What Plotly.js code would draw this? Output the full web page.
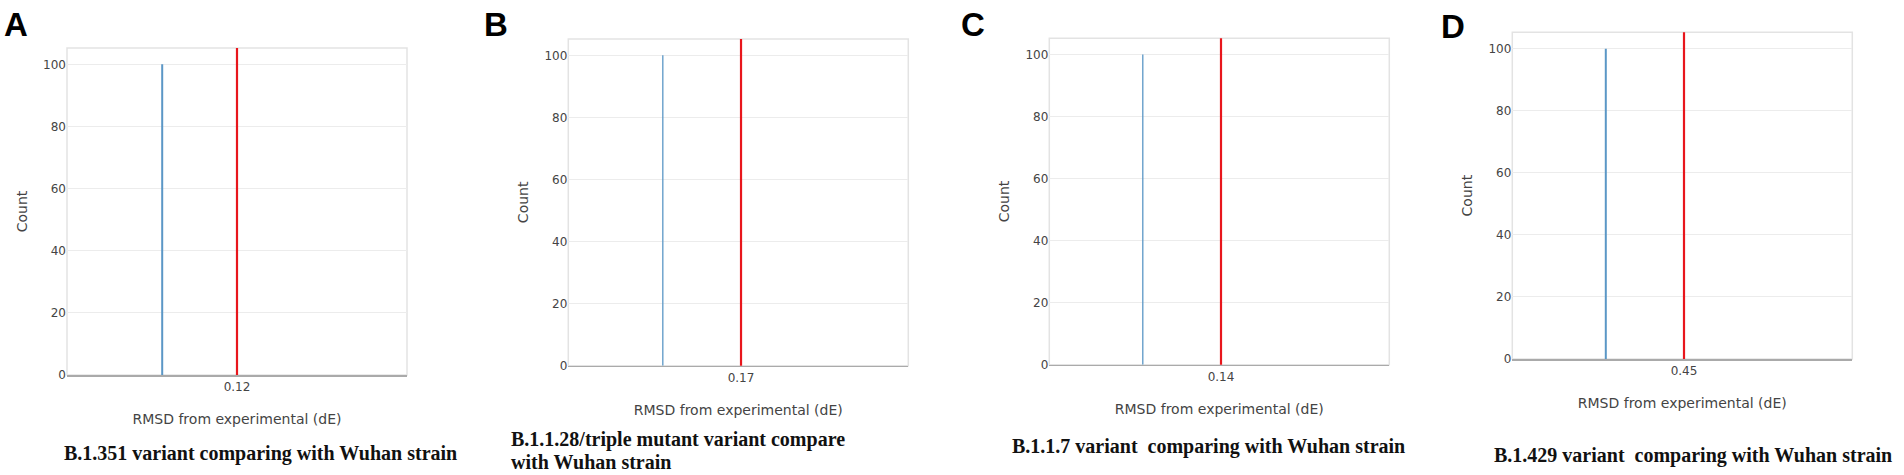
<!DOCTYPE html>
<html>
<head>
<meta charset="utf-8">
<script src="https://cdn.plot.ly/plotly-3.0.1.min.js"></script>
<style>
  html, body { margin: 0; padding: 0; background: #ffffff; }
  #chart { width: 1904px; height: 475px; }
</style>
</head>
<body>
<div id="chart"></div>
<script>
// ---- data ----
const panelLetters = ["A", "B", "C", "D"];
// each caption is a list of lines
const captions = [
  ["B.1.351 variant comparing with Wuhan strain"],
  ["B.1.1.28/triple mutant variant compare", "with Wuhan strain"],
  ["B.1.1.7 variant  comparing with Wuhan strain"],
  ["B.1.429 variant  comparing with Wuhan strain"]
];
// experimental reference value (red line) per panel
const experimentalRMSD = [0.12, 0.17, 0.14, 0.45];
const tickLabels = ["0.12", "0.17", "0.14", "0.45"];
// histogram bin position (blue) and its count per panel
const histRMSD = [0.1178, 0.1677, 0.1377, 0.4477];
const histCount = [100, 100, 100, 100];
const yTickVals = [0, 20, 40, 60, 80, 100];

const xTitle = "RMSD from experimental (dE)";
const yTitle = "Count";

// ---- layout geometry (pixels in a 1904x475 canvas) ----
const W = 1904, H = 475;
const boxes = [
  {l: 67,    r: 407,    t: 48,   b: 375,   letter: [16, 25],  cap: [63, 453]},
  {l: 568.3, r: 908.3,  t: 39,   b: 365.7, letter: [496, 25], cap: [510, 439]},
  {l: 1049.3,r: 1389.3, t: 38.3, b: 364.7, letter: [973, 25], cap: [1010.7, 446]},
  {l: 1512.3,r: 1852.3, t: 32.3, b: 359,   letter: [1453, 26], cap: [1493, 455]}
];
const captionLineGap = 23;
const redFrac = [0.5, 0.508, 0.505, 0.505];
const blueWidth = [2, 1.3, 1.3, 2];
const axisFont = "DejaVu Sans, Verdana, sans-serif";

const traces = [];
const layout = {
  width: W, height: H,
  margin: {l: 0, r: 0, t: 0, b: 0},
  paper_bgcolor: "#ffffff",
  plot_bgcolor: "#ffffff",
  showlegend: false,
  font: {family: axisFont, color: "#444"},
  shapes: [],
  annotations: []
};

boxes.forEach((bx, i) => {
  const n = i === 0 ? "" : String(i + 1);
  const xa = "xaxis" + n, ya = "yaxis" + n;
  const xr = "x" + n, yr = "y" + n;
  const span = 0.01;
  const x0 = experimentalRMSD[i] - redFrac[i] * span;

  traces.push({
    type: "scatter", mode: "lines",
    x: [histRMSD[i], histRMSD[i]], y: [0, histCount[i]],
    xaxis: xr, yaxis: yr,
    line: {color: "#5b97c6", width: blueWidth[i]},
    hoverinfo: "skip"
  });

  layout[xa] = {
    domain: [bx.l / W, bx.r / W],
    anchor: yr,
    range: [x0, x0 + span],
    tickvals: [experimentalRMSD[i]],
    ticktext: [tickLabels[i]],
    showgrid: false, zeroline: false,
    showline: true, linecolor: "#aaaaaa", linewidth: 1.5,
    ticks: "",
    tickfont: {size: 12, color: "#444", family: axisFont},
    title: {text: xTitle, standoff: 21, font: {size: 14, color: "#444", family: axisFont}},
    automargin: false, fixedrange: true
  };
  layout[ya] = {
    domain: [1 - bx.b / H, 1 - bx.t / H],
    anchor: xr,
    range: [0, 105.26],
    tickvals: yTickVals,
    showgrid: true, gridcolor: "#ececec", gridwidth: 1,
    zeroline: false, showline: false,
    ticks: "",
    tickfont: {size: 12, color: "#444", family: axisFont},
    title: {text: yTitle, standoff: 12, font: {size: 14, color: "#444", family: axisFont}},
    automargin: false, fixedrange: true
  };

  // light frame around the plot area
  layout.shapes.push({
    type: "rect", xref: xr + " domain", yref: yr + " domain",
    x0: 0, x1: 1, y0: 0, y1: 1,
    line: {color: "#e3e3e3", width: 1.5}, layer: "below"
  });
  // experimental value marker
  layout.shapes.push({
    type: "line", xref: xr, yref: yr + " domain",
    x0: experimentalRMSD[i], x1: experimentalRMSD[i], y0: 0, y1: 1,
    line: {color: "#e8161c", width: 2.2}
  });

  layout.annotations.push({
    text: panelLetters[i], xref: "paper", yref: "paper",
    x: bx.letter[0] / W, y: 1 - bx.letter[1] / H,
    xanchor: "center", yanchor: "middle", showarrow: false,
    font: {family: "Liberation Sans, Arial, sans-serif", size: 33, color: "#000", weight: "bold"}
  });
  captions[i].forEach((line, k) => {
    layout.annotations.push({
      text: "<b>" + line + "</b>", xref: "paper", yref: "paper",
      x: bx.cap[0] / W, y: 1 - (bx.cap[1] + k * captionLineGap) / H,
      xanchor: "left", yanchor: "middle", align: "left", showarrow: false,
      borderpad: 0,
      font: {family: "Liberation Serif, Times New Roman, serif", size: 20, color: "#111"}
    });
  });
});

Plotly.newPlot("chart", traces, layout, {staticPlot: true, displayModeBar: false});
</script>
</body>
</html>
